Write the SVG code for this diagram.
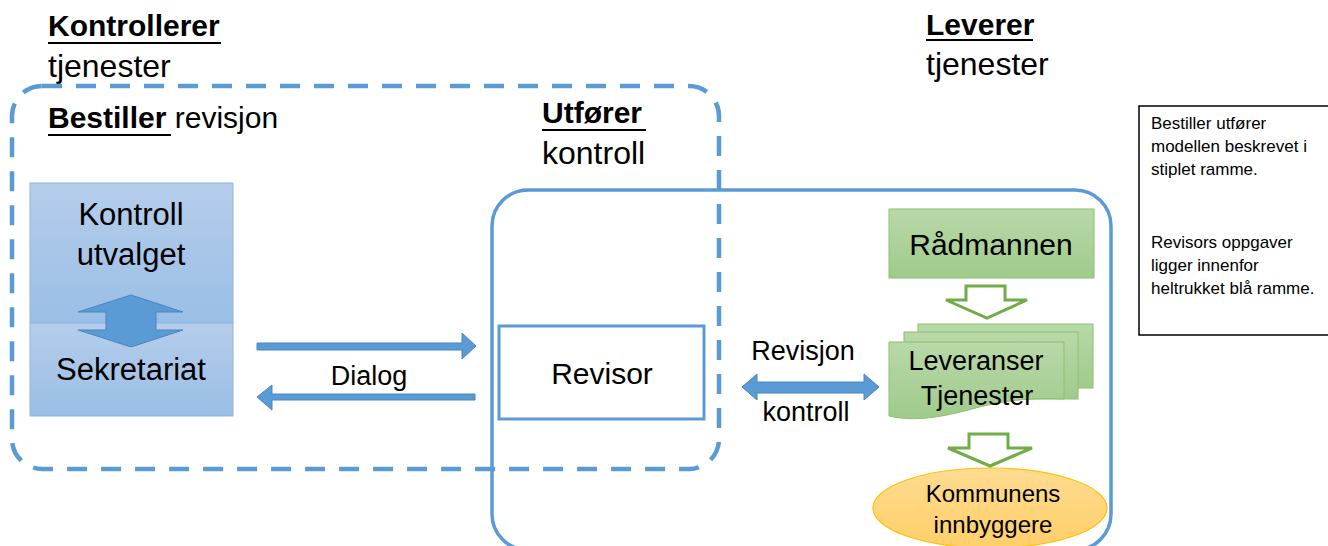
<svg xmlns="http://www.w3.org/2000/svg" width="1328" height="546" viewBox="0 0 1328 546">
<defs>
<linearGradient id="gBlue" x1="0" y1="0" x2="0" y2="1">
<stop offset="0" stop-color="#B5CDEB"/><stop offset="1" stop-color="#9ABEE6"/>
</linearGradient>
<linearGradient id="gGreen" x1="0" y1="0" x2="0" y2="1">
<stop offset="0" stop-color="#B8D8A9"/><stop offset="1" stop-color="#A0CB8B"/>
</linearGradient>
<linearGradient id="gOrange" x1="0" y1="0" x2="0" y2="1">
<stop offset="0" stop-color="#FFDC92"/><stop offset="1" stop-color="#FFCF68"/>
</linearGradient>
<style>
text{font-family:"Liberation Sans",Arial,sans-serif;fill:#000}
.b{font-weight:bold}
.h{font-size:30px}
.hr{font-size:32px}
.ul{stroke:#000;stroke-width:2}
.blk{fill:url(#gBlue);stroke:#8EB4E3;stroke-width:1}
.grn{fill:url(#gGreen);stroke:#8CBF6E;stroke-width:1}
.barrow{fill:#5B9BD5;stroke:#4A85BE;stroke-width:1}
.harrow{fill:#fff;stroke:#70AD47;stroke-width:3}
.mid{text-anchor:middle}
.note{font-size:17px}
</style>
</defs>

<g id="headers">
<text class="h b" x="48" y="36">Kontrollerer</text>
<line class="ul" x1="48" y1="43" x2="221" y2="43"/>
<text class="hr" x="48" y="77">tjenester</text>
<text class="h b" x="926" y="35">Leverer</text>
<line class="ul" x1="926" y1="40" x2="1033" y2="40"/>
<text class="hr" x="926" y="75">tjenester</text>
</g>

<g id="solid-frame">
<rect x="492" y="190" width="619" height="360" rx="36" ry="36" fill="none" stroke="#5B9BD5" stroke-width="3.5"/>
</g>

<g id="dashed-frame">
<rect x="12" y="86" width="707" height="383" rx="30" ry="30" fill="none" stroke="#5B9BD5" stroke-width="4.5" stroke-dasharray="20 14"/>
</g>

<g id="bestiller-label">
<text class="h" x="48" y="128"><tspan class="b">Bestiller </tspan>revisjon</text>
<line class="ul" x1="48" y1="135" x2="171" y2="135"/>
</g>

<g id="utforer-label">
<text class="h b" x="542" y="123">Utfører</text>
<line class="ul" x1="542" y1="130" x2="646" y2="130"/>
<text class="hr" x="542" y="164">kontroll</text>
</g>

<g id="kontrollutvalget">
<rect class="blk" x="30" y="183" width="203" height="140"/>
<text class="mid" x="131" y="225" font-size="31">Kontroll</text>
<text class="mid" x="131" y="265" font-size="31">utvalget</text>
</g>
<g id="sekretariat">
<rect class="blk" x="30" y="323" width="203" height="93"/>
<text class="mid" x="131" y="380" font-size="31">Sekretariat</text>
</g>

<g id="revisor">
<rect x="499" y="326" width="205" height="93" fill="#fff" stroke="#5B9BD5" stroke-width="3"/>
<text class="mid" x="602" y="384" font-size="30">Revisor</text>
</g>

<g id="radmannen">
<rect class="grn" x="889" y="209" width="205" height="69"/>
<text class="mid" x="991" y="255" font-size="30">Rådmannen</text>
</g>

<g id="leveranser">
<rect class="grn" x="918" y="324" width="175" height="64"/>
<rect class="grn" x="904" y="332" width="174" height="67"/>
<path class="grn" d="M889,342 H1064 V399 C1030,397 1000,401 968,410 C935,419 910,421 889,416 Z"/>
<text class="mid" x="976" y="370" font-size="27">Leveranser</text>
<text class="mid" x="977" y="405" font-size="27">Tjenester</text>
</g>

<g id="innbyggere">
<ellipse cx="990" cy="508" rx="117" ry="40" fill="url(#gOrange)" stroke="#FFC000" stroke-width="1.2"/>
<text class="mid" x="993" y="502" font-size="24">Kommunens</text>
<text class="mid" x="993" y="533" font-size="24">innbyggere</text>
</g>

<g id="note">
<rect x="1139" y="106" width="200" height="229" fill="#fff" stroke="#000" stroke-width="1.5"/>
<text class="note" x="1151" y="129">Bestiller utfører</text>
<text class="note" x="1151" y="152">modellen beskrevet i</text>
<text class="note" x="1151" y="175">stiplet ramme.</text>
<text class="note" x="1151" y="248">Revisors oppgaver</text>
<text class="note" x="1151" y="271">ligger innenfor</text>
<text class="note" x="1151" y="294">heltrukket blå ramme.</text>
</g>

<g id="connectors">
<polygon class="barrow" points="131,295 183,312 156,312 156,330 183,330 131,347 78,330 106,330 106,312 78,312"/>
<polygon class="barrow" points="257,343 462,343 462,333 476,346 462,359 462,350 257,350"/>
<polygon class="barrow" points="475,394 272,394 272,385 257,397 272,410 272,400 475,400"/>
<polygon class="barrow" points="742,387 757,374 757,382 864,382 864,374 879,387 864,400 864,393 757,393 757,400"/>
<polygon class="harrow" points="966,286 1005,286 1005,300 1027,300 987,318 946,300 966,300"/>
<polygon class="harrow" points="969,434 1008,434 1008,448 1032,448 990,466 948,448 969,448"/>
<text class="mid" x="369" y="385" font-size="27">Dialog</text>
<text class="mid" x="803" y="360" font-size="27">Revisjon</text>
<text class="mid" x="806" y="421" font-size="27">kontroll</text>
</g>
</svg>
